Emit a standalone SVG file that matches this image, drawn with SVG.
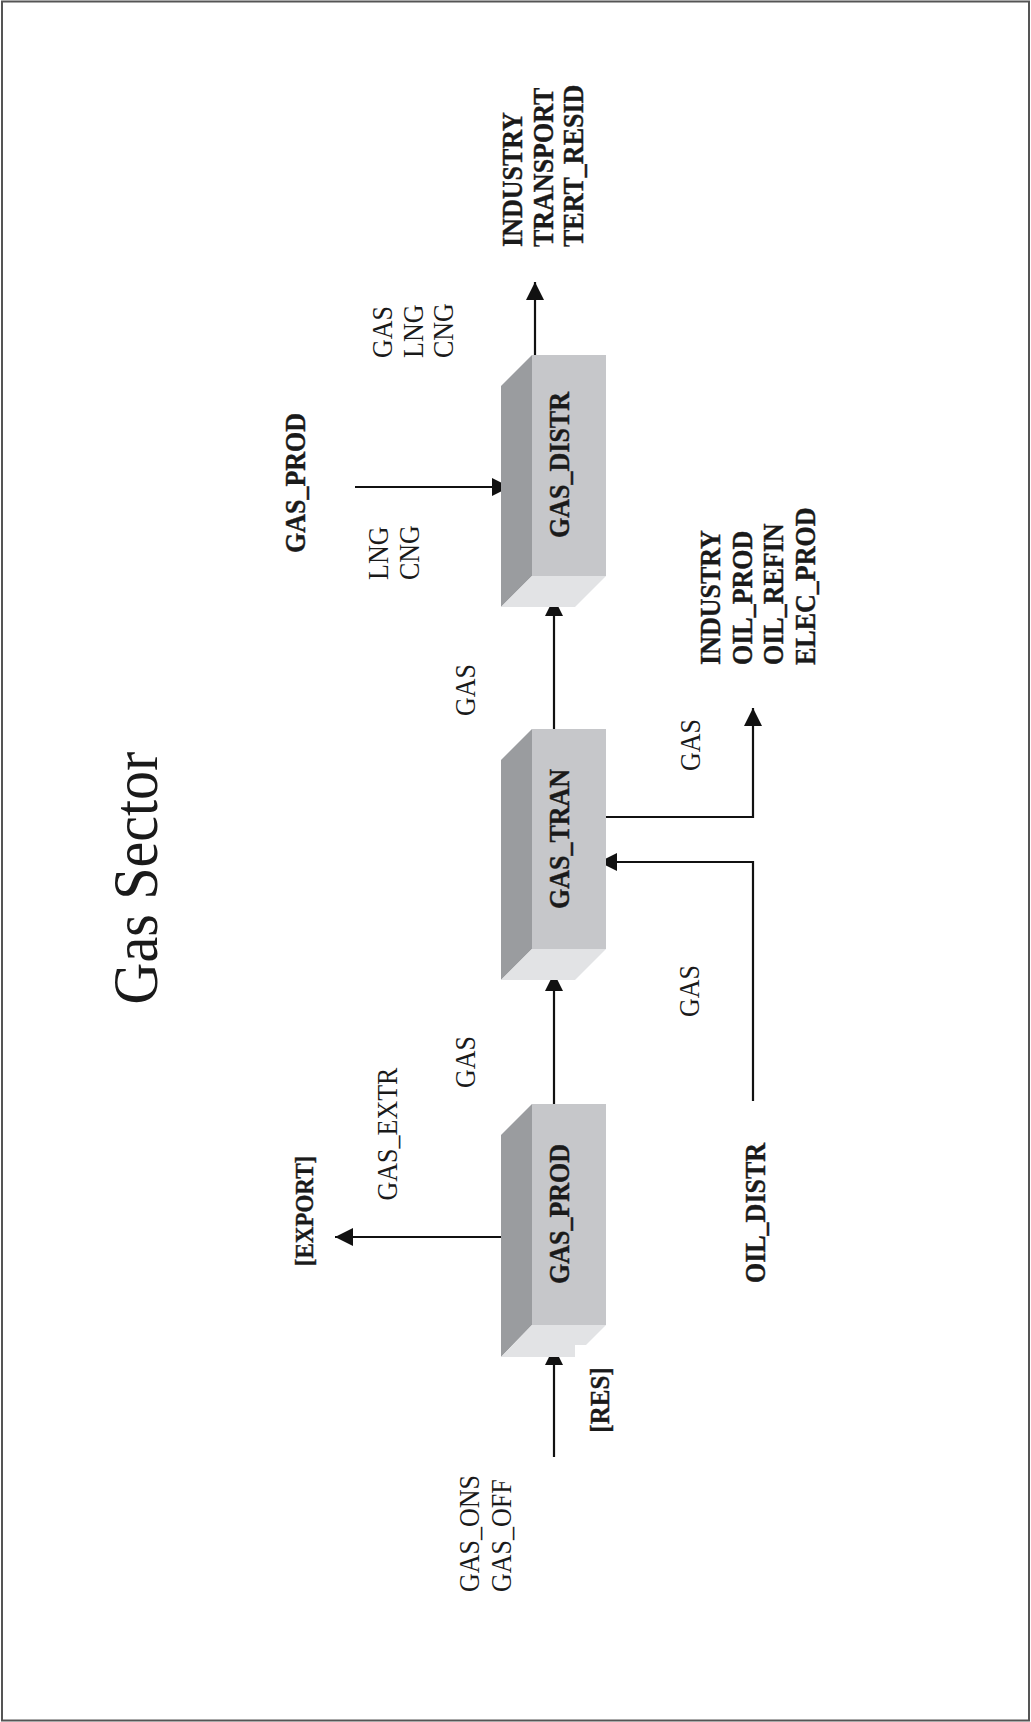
<svg xmlns="http://www.w3.org/2000/svg" width="1031" height="1722" viewBox="0 0 1031 1722">
<style>
.t{font-family:"Liberation Serif","Times New Roman",serif;fill:#1a1a1a}
.n{font-size:26px}
.b{font-size:26px;font-weight:bold;stroke:#1a1a1a;stroke-width:0.35}
.front{fill:#c6c7ca}
.side{fill:#9a9c9f}
.bot{fill:#e2e3e5}
.c{fill:none;stroke:#111;stroke-width:2.2;marker-end:url(#ah)}
</style>
<defs>
<marker id="ah" markerUnits="userSpaceOnUse" markerWidth="20" markerHeight="20" refX="18" refY="9" orient="auto">
<path d="M0,0 L18,9 L0,18 z" fill="#111"/>
</marker>
</defs>
<rect x="2" y="1.5" width="1027" height="1719" fill="#fff" stroke="#555" stroke-width="2"/>
<text class="t" font-size="58" transform="translate(157,878) rotate(-90) scale(1,1.08)" text-anchor="middle">Gas Sector</text>

<g id="connectors">
<path class="c" d="M554,1457 V1347"/>
<path class="c" d="M554,1104 V973"/>
<path class="c" d="M554,729 V598"/>
<path class="c" d="M535,355 V282"/>
<path class="c" d="M524,1237 H335"/>
<path class="c" d="M355,487 H510"/>
<path class="c" d="M599,817 H753 V708"/>
<path class="c" d="M753,1101 V862 H599"/>
</g>

<g id="GAS_PROD">
<polygon class="side" points="501,1135 532,1104 532,1325 501,1357"/>
<polygon class="bot" points="532,1325 606,1325 586,1345 575,1345 575,1357 501,1357"/>
<rect class="front" x="532" y="1104" width="74" height="221"/>
<text class="t b" transform="translate(569,1214) rotate(-90) scale(1,1.12)" text-anchor="middle">GAS_PROD</text>
</g>
<g id="GAS_TRAN">
<polygon class="side" points="501,760 532,729 532,949 501,980"/>
<polygon class="bot" points="532,949 606,949 575,980 501,980"/>
<rect class="front" x="532" y="729" width="74" height="220"/>
<text class="t b" transform="translate(569,839) rotate(-90) scale(1,1.12)" text-anchor="middle">GAS_TRAN</text>
</g>
<g id="GAS_DISTR">
<polygon class="side" points="501,386 532,355 532,576 501,607"/>
<polygon class="bot" points="532,576 606,576 575,607 501,607"/>
<rect class="front" x="532" y="355" width="74" height="221"/>
<text class="t b" transform="translate(569,465) rotate(-90) scale(1,1.12)" text-anchor="middle">GAS_DISTR</text>
</g>

<g id="labels">
<text class="t b" transform="translate(313,1211) rotate(-90) scale(1,1.12)" text-anchor="middle" style="font-size:23px">[EXPORT]</text>
<text class="t n" transform="translate(397,1134) rotate(-90) scale(1,1.1)" text-anchor="middle">GAS_EXTR</text>
<text class="t n" transform="translate(475,1062) rotate(-90) scale(1,1.1)" text-anchor="middle">GAS</text>
<text class="t n" transform="translate(475,690) rotate(-90) scale(1,1.1)" text-anchor="middle">GAS</text>
<text class="t b" transform="translate(305,483) rotate(-90) scale(1,1.12)" text-anchor="middle">GAS_PROD</text>
<text class="t n" transform="translate(388,580) rotate(-90) scale(1,1.1)">LNG</text>
<text class="t n" transform="translate(419,580) rotate(-90) scale(1,1.1)">CNG</text>
<text class="t n" transform="translate(392,358) rotate(-90) scale(1,1.1)">GAS</text>
<text class="t n" transform="translate(423,358) rotate(-90) scale(1,1.1)">LNG</text>
<text class="t n" transform="translate(453,358) rotate(-90) scale(1,1.1)">CNG</text>
<text class="t b" transform="translate(522,247) rotate(-90) scale(1,1.12)">INDUSTRY</text>
<text class="t b" transform="translate(553,247) rotate(-90) scale(1,1.12)">TRANSPORT</text>
<text class="t b" transform="translate(583,247) rotate(-90) scale(1,1.12)">TERT_RESID</text>
<text class="t b" transform="translate(720,665) rotate(-90) scale(1,1.12)">INDUSTRY</text>
<text class="t b" transform="translate(752,665) rotate(-90) scale(1,1.12)">OIL_PROD</text>
<text class="t b" transform="translate(783,665) rotate(-90) scale(1,1.12)">OIL_REFIN</text>
<text class="t b" transform="translate(815,665) rotate(-90) scale(1,1.12)">ELEC_PROD</text>
<text class="t n" transform="translate(700,745) rotate(-90) scale(1,1.1)" text-anchor="middle">GAS</text>
<text class="t n" transform="translate(699,991) rotate(-90) scale(1,1.1)" text-anchor="middle">GAS</text>
<text class="t b" transform="translate(765,1213) rotate(-90) scale(1,1.12)" text-anchor="middle">OIL_DISTR</text>
<text class="t b" transform="translate(609,1400) rotate(-90) scale(1,1.12)" text-anchor="middle" style="font-size:25px">[RES]</text>
<text class="t n" transform="translate(479,1592) rotate(-90) scale(1,1.1)">GAS_ONS</text>
<text class="t n" transform="translate(511,1592) rotate(-90) scale(1,1.1)">GAS_OFF</text>
</g>
</svg>
